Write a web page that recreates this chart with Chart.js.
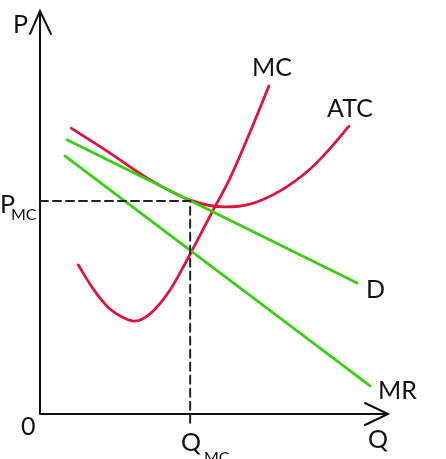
<!DOCTYPE html>
<html>
<head>
<meta charset="utf-8">
<script src="https://cdn.jsdelivr.net/npm/chart.js@4/dist/chart.umd.min.js"></script>
<style>
html, body { margin: 0; padding: 0; background: #fff; }
</style>
</head>
<body>
<canvas id="chartMonopoly" width="446" height="459"></canvas>
<script>
// equilibrium point
var qMC = 4.29;
var pMC = 5.30;

// marginal cost
var mcQ = [1.09, 1.43, 1.71, 2.00, 2.29, 2.71, 3.14, 3.71, 4.29, 4.86, 5.43, 6.00, 6.54];
var mcP = [3.71, 3.23, 2.89, 2.61, 2.44, 2.31, 2.49, 3.08, 3.98, 4.93, 5.87, 7.01, 8.16];

// average total cost
var atcQ = [0.89, 2.00, 3.06, 4.29, 5.29, 6.00, 6.86, 7.71, 8.20, 8.83];
var atcP = [7.11, 6.49, 5.87, 5.32, 5.15, 5.22, 5.55, 6.09, 6.52, 7.16];

// demand and marginal revenue
var dQ = [0.77, 9.06];
var dP = [6.82, 3.26];
var mrQ = [0.71, 9.43];
var mrP = [6.42, 0.70];

function toPoints(xs, ys) {
    return xs.map(function (x, i) {
        return { x: x, y: ys[i] };
    });
}

var red = "#dc143c";
var green = "#3ccc14";

var axesPlugin = {
    id: "econAxes",
    beforeDatasetsDraw: function (chart) {
        var c = chart.ctx;
        var a = chart.chartArea;
        c.save();
        c.strokeStyle = "#111";
        c.lineWidth = 2;
        c.lineCap = "round";
        c.beginPath();
        // y axis with arrow
        c.moveTo(a.left, a.bottom);
        c.lineTo(a.left, a.top - 1);
        c.moveTo(a.left - 10, a.top + 22);
        c.lineTo(a.left, a.top - 1);
        c.lineTo(a.left + 11, a.top + 22);
        // x axis with arrow
        c.moveTo(a.left, a.bottom);
        c.lineTo(a.right - 2, a.bottom);
        c.moveTo(a.right - 25, a.bottom - 11);
        c.lineTo(a.right - 2, a.bottom);
        c.lineTo(a.right - 25, a.bottom + 11);
        c.stroke();
        c.restore();
    },
    afterDraw: function (chart) {
        var c = chart.ctx;
        c.save();
        c.fillStyle = "#111";
        c.textBaseline = "alphabetic";
        c.textAlign = "left";
        c.font = "25px Lato";
        c.fillText("P", 13, 33);
        c.fillText("P", 0, 213);
        c.fillText("MC", 252, 76);
        c.fillText("ATC", 327, 117);
        c.fillText("D", 366, 298);
        c.fillText("MR", 378, 399);
        c.fillText("Q", 368, 448);
        c.fillText("Q", 181, 451);
        c.fillText("0", 21, 435);
        c.font = "16px Lato";
        c.fillText("MC", 11, 220);
        c.fillText("MC", 204, 463);
        c.restore();
    }
};

var chartData = {
    datasets: [
        {
            label: "P_MC / Q_MC",
            data: [
                { x: 0, y: pMC },
                { x: qMC, y: pMC },
                { x: qMC, y: -0.27 },
            ],
            borderColor: "#222",
            borderWidth: 2,
            borderDash: [8, 5],
            tension: 0,
            clip: false,
        },
        {
            label: "MR",
            data: toPoints(mrQ, mrP),
            borderColor: green,
            borderWidth: 2.8,
        },
        {
            label: "D",
            data: toPoints(dQ, dP),
            borderColor: green,
            borderWidth: 2.8,
        },
        {
            label: "ATC",
            data: toPoints(atcQ, atcP),
            borderColor: red,
            borderWidth: 2.8,
            cubicInterpolationMode: "monotone",
        },
        {
            label: "MC",
            data: toPoints(mcQ, mcP),
            borderColor: red,
            borderWidth: 2.8,
            cubicInterpolationMode: "monotone",
        },
    ],
};

var options = {
    responsive: false,
    animation: false,
    layout: {
        padding: { left: 40, right: 56, top: 12, bottom: 45 },
    },
    elements: {
        point: { radius: 0 },
        line: { borderCapStyle: "round", fill: false },
    },
    plugins: {
        legend: { display: false },
        tooltip: { enabled: false },
    },
    scales: {
        x: { type: "linear", min: 0, max: 10, display: false },
        y: { type: "linear", min: 0, max: 10, display: false },
    },
};

var ctx = document.getElementById("chartMonopoly").getContext("2d");
var myChart = new Chart(ctx, {
    type: "line",
    data: chartData,
    options: options,
    plugins: [axesPlugin],
});
</script>
</body>
</html>
